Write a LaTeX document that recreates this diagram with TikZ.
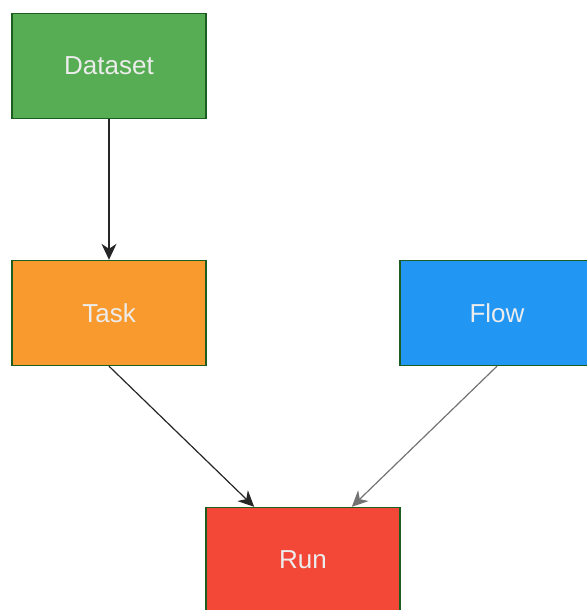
\documentclass[tikz,border=0pt]{standalone}
\usepackage{fontspec}
\setmainfont{Liberation Sans}
\usepackage{xcolor}
\definecolor{datagreen}{RGB}{86, 173, 83}
\definecolor{taskorange}{RGB}{249, 154, 46}
\definecolor{flowblue}{RGB}{33, 150, 243}
\definecolor{runred}{RGB}{243, 72, 56}
\definecolor{edgegreen}{RGB}{27, 94, 32}
\definecolor{boxtext}{RGB}{236, 236, 236}
\usepackage{tikz}
\usetikzlibrary{arrows.meta, positioning, calc}

\begin{document}
\begin{tikzpicture}[x=1pt, y=-1pt,
    entity/.style={draw=edgegreen, line width=1.4pt, minimum width=194pt, minimum height=105pt,
        inner sep=0pt, text=boxtext, font=\fontsize{26}{30}\selectfont},
    link/.style={-{Stealth[length=16pt, width=15pt, inset=5pt]}, line width=1.2pt}]
    \useasboundingbox (0,0) rectangle (586,610);
    \node[entity, fill=datagreen] (dataset) at (109,66) {Dataset};
    \node[entity, fill=taskorange] (task) at (109,313) {Task};
    \node[entity, fill=flowblue] (flow) at (497,313) {Flow};
    \node[entity, fill=runred] (run) at (303,560) {Run};
    \coordinate (runleft) at ($(run.north west)!0.25!(run.north east)$);
    \coordinate (runright) at ($(run.north west)!0.75!(run.north east)$);
    \draw[link, black!85] (dataset.south) -- (task.north);
    \draw[link, black!85] (task.south) -- (runleft);
    \draw[link, black!55] (flow.south) -- (runright);
\end{tikzpicture}
\end{document}
